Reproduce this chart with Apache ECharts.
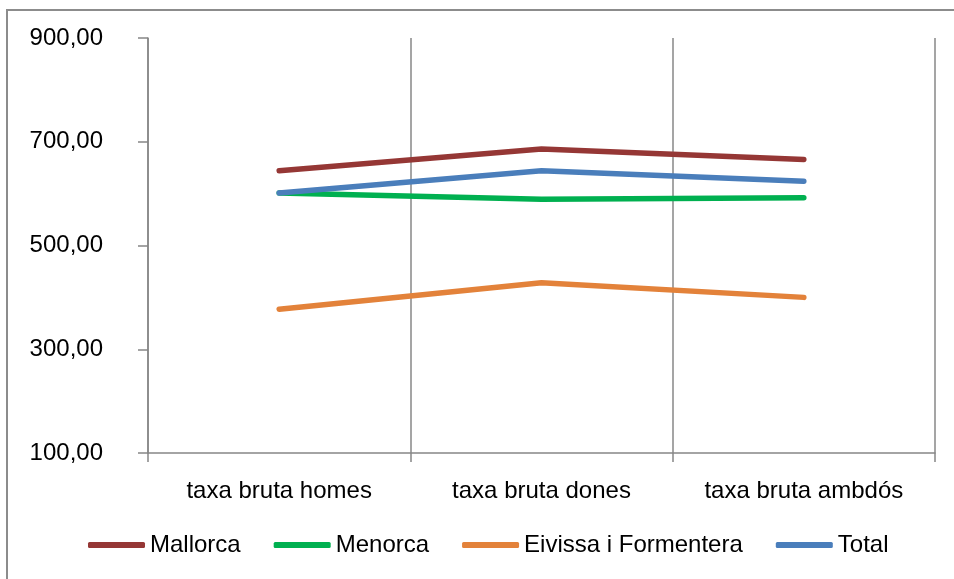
<!DOCTYPE html>
<html>
<head>
<meta charset="utf-8">
<script src="https://cdn.jsdelivr.net/npm/echarts@6/dist/echarts.min.js"></script>
<style>html,body{margin:0;padding:0;background:#fff}#c{width:954px;height:579px}</style>
</head>
<body>
<div id="c"></div>
<script>
const categories = ['taxa bruta homes', 'taxa bruta dones', 'taxa bruta ambdós'];
const mallorca = [644, 686, 666];
const menorca = [601, 589, 592];
const eivissa = [377, 428, 400];
const total = [601, 644, 624];
const seriesNames = ['Mallorca', 'Menorca', 'Eivissa i Formentera', 'Total'];
const colors = ['#953735', '#00B050', '#E3823A', '#4A7EBB'];
const seriesData = [mallorca, menorca, eivissa, total];

const FONT = 'Liberation Sans';
const chart = echarts.init(document.getElementById('c'));
chart.setOption({
  animation: false,
  textStyle: { fontFamily: FONT },
  graphic: [{
    type: 'rect', shape: { x: 7, y: 10, width: 980, height: 620 },
    style: { fill: null, stroke: '#8c8c8c', lineWidth: 2 }, silent: true
  }],
  grid: { left: 148, right: 19, top: 38, bottom: 126 },
  legend: {
    left: 88, top: 533, padding: 0, itemWidth: 57, itemHeight: 6, itemGap: 33,
    icon: 'roundRect',
    textStyle: { fontFamily: FONT, fontSize: 24, color: '#000' },
    data: seriesNames
  },
  xAxis: {
    type: 'category', data: categories, boundaryGap: true,
    axisLine: { lineStyle: { color: '#878787', width: 1.5 } },
    axisTick: { show: true, length: 9, lineStyle: { color: '#878787', width: 1.5 } },
    axisLabel: { fontFamily: FONT, fontSize: 24, color: '#000', margin: 26 },
    splitLine: { show: true, lineStyle: { color: '#878787', width: 1.5 } }
  },
  yAxis: {
    type: 'value', min: 100, max: 900, interval: 200,
    axisLine: { show: true, lineStyle: { color: '#878787', width: 1.5 } },
    axisTick: { show: true, length: 10, lineStyle: { color: '#878787', width: 1.5 } },
    axisLabel: {
      fontFamily: FONT, fontSize: 24, color: '#000', margin: 45,
      formatter: v => v.toFixed(2).replace('.', ',')
    },
    splitLine: { show: false }
  },
  series: seriesNames.map((n, i) => ({
    name: n, type: 'line', data: seriesData[i],
    symbol: 'none', showSymbol: false,
    lineStyle: { color: colors[i], width: 5.5, cap: 'round', join: 'round' },
    itemStyle: { color: colors[i] }
  }))
});
</script>
</body>
</html>
